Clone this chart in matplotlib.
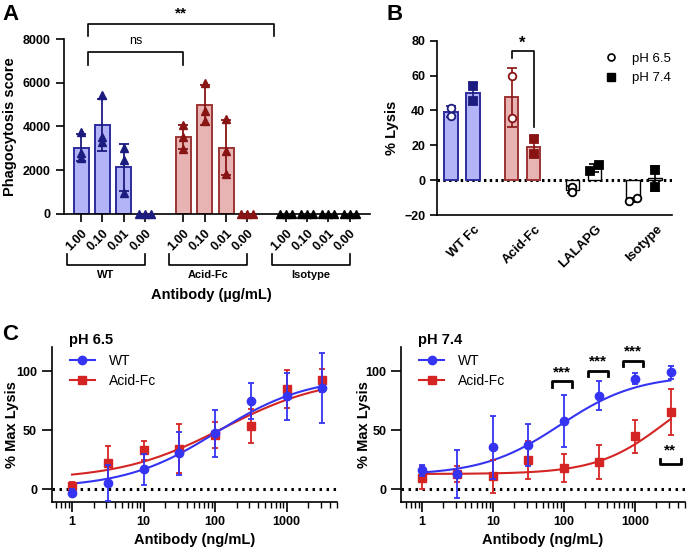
import numpy as np
import matplotlib
matplotlib.use('Agg')
import matplotlib.pyplot as plt

plt.rcParams['font.family'] = ['Liberation Sans', 'DejaVu Sans']
plt.rcParams['axes.linewidth'] = 1.2
plt.rcParams['xtick.major.width'] = 1.2
plt.rcParams['ytick.major.width'] = 1.2
plt.rcParams['xtick.minor.width'] = 1.0

# ---------------- data ----------------
# Panel A: phagocytosis score (triplicates), antibody in ug/mL
conc_labels = ['1.00', '0.10', '0.01', '0.00']
a_groups = ['WT', 'Acid-Fc', 'Isotype']
a_wt = [[3750, 2800, 2550], [5450, 3500, 3300], [3000, 2450, 950], [0, 0, 0]]
a_acid = [[4050, 3500, 2950], [6000, 4700, 4250], [4350, 2900, 1850], [0, 0, 0]]
a_iso = [[0, 0, 0], [0, 0, 0], [0, 0, 0], [0, 0, 0]]

# Panel B: % lysis (duplicates)
b_groups = ['WT Fc', 'Acid-Fc', 'LALAPG', 'Isotype']
b_ph65 = [[41.5, 37.0], [59.5, 35.5], [-4.0, -7.0], [-12.0, -10.5]]
b_ph74 = [[54.0, 45.5], [23.5, 15.0], [5.5, 8.5], [6.0, -4.0]]

# Panel C: % max lysis vs antibody (ng/mL)
c_x = [1, 3.16, 10, 31.6, 100, 316, 1000, 3162]
c65_wt = [-3, 5.5, 17, 30.5, 47.5, 75, 79, 86]
c65_wt_sd = [3, 15, 13, 18, 20, 15, 20, 30]
c65_acid = [3, 22, 33, 34.5, 46, 53.5, 85, 92.5]
c65_acid_sd = [3, 15, 8, 21, 11, 14.5, 16, 10]
c74_wt = [16, 13, 35.5, 37.5, 58, 79.5, 94, 99.5]
c74_wt_sd = [5, 20, 27, 18, 22, 12, 5, 5.5]
c74_acid = [10, 13, 11, 25, 18, 23.5, 45, 65.5]
c74_acid_sd = [9.5, 7, 14, 16, 12, 14.5, 14, 19.5]

# fitted 4-parameter logistic curves: bottom, top, EC50, hill
fit65_wt = (1, 96, 105, 0.68)
fit65_acid = (8, 96, 130, 0.6)
fit74_wt = (12, 97, 88, 0.8)
fit74_acid = (13, 100, 2700, 0.9)

# colours
blue_fill, blue_edge, blue_pt = '#b3b3f7', '#2c2c9c', '#1c1c80'
red_fill, red_edge, red_pt = '#e8b3b3', '#9c3434', '#881414'
c_blue, c_red = '#3434f2', '#d42424'


def logistic(x, p):
    b, t, ec, h = p
    return b + (t - b) / (1 + (ec / x) ** h)


fig = plt.figure(figsize=(6.88, 5.48), dpi=100)

# ---------------- Panel A ----------------
axA = fig.add_axes([64/688, 1-214/548, 306/688, 175/548])
pos = [np.arange(4) + g * 4.8 for g in range(3)]
for xs, pts, fc, ec, pc in [(pos[0], a_wt, blue_fill, blue_edge, blue_pt),
                             (pos[1], a_acid, red_fill, red_edge, red_pt),
                             (pos[2], a_iso, 'white', 'black', 'black')]:
    for x, p in zip(xs, pts):
        p = np.array(p, float)
        m = p.mean()
        if m > 0:
            axA.bar(x, m, width=0.7, color=fc, edgecolor=ec, linewidth=1.4, zorder=2)
            axA.errorbar(x, m, yerr=p.std(ddof=1), color=pc, capsize=3.5, lw=1.3,
                         capthick=1.3, zorder=3)
            dx = np.zeros(3)
        else:
            dx = np.array([-0.28, 0, 0.28])
        axA.plot(x + dx, p, '^', color=pc, ms=6, zorder=4, clip_on=False)

axA.set_ylim(0, 8000)
axA.set_xlim(-0.8, 13.55)
axA.set_yticks(range(0, 8001, 2000))
axA.set_xticks(np.concatenate(pos))
axA.set_xticklabels(conc_labels * 3, rotation=45, ha='right', rotation_mode='anchor',
                    fontsize=8, fontweight='bold')
axA.tick_params(axis='both', direction='out', length=6, labelsize=9)
for t in axA.get_yticklabels():
    t.set_fontweight('bold')
axA.spines['top'].set_visible(False)
axA.spines['right'].set_visible(False)
axA.set_ylabel('Phagocytosis score', fontsize=10.5, fontweight='bold')
axA.yaxis.set_label_coords(-0.155, 0.5)

# group brackets under the tick labels
tr = axA.get_xaxis_transform()
for g, name in enumerate(a_groups):
    x0, x1 = pos[g][0] - 0.66, pos[g][-1]
    axA.plot([x0, x0, x1, x1], [-0.229, -0.29, -0.29, -0.229], color='black',
             lw=1.2, transform=tr, clip_on=False)
    axA.text((x0 + x1) / 2, -0.35, name, transform=tr, ha='center', va='center',
             fontsize=8, fontweight='bold')
axA.set_xlabel('Antibody (µg/mL)', fontsize=10.5, fontweight='bold')
axA.xaxis.set_label_coords(0.48, -0.42)

# significance
axA.plot([0.33, 0.33, 4.78, 4.78], [6810, 7400, 7400, 6810], color='black', lw=1.2,
         clip_on=False)
axA.text(2.55, 7900, 'ns', ha='center', va='center', fontsize=9)
axA.plot([0.33, 0.33, 9.04, 9.04], [8137, 8686, 8686, 8137], color='black', lw=1.2,
         clip_on=False)
axA.text(4.69, 9150, '**', ha='center', va='center', fontsize=11, fontweight='bold')

# ---------------- Panel B ----------------
axB = fig.add_axes([437/688, 1-215/548, 235/688, 174.3/548])
b_fill = [blue_fill, red_fill, 'white', 'white']
b_edge = [blue_edge, red_edge, 'black', 'black']
b_pt = [blue_pt, red_pt, 'black', 'black']
dx65 = [[0, 0], [0, 0], [0, 0], [-0.07, 0.07]]
dx74 = [[0, 0], [0, 0], [-0.07, 0.07], [0, 0]]
off = 0.18
for i in range(4):
    for sign, pts, dx, mk in [(-1, b_ph65[i], dx65[i], 'o'), (1, b_ph74[i], dx74[i], 's')]:
        p = np.array(pts)
        x = i + sign * off
        m = p.mean()
        lw = 1.4 if i < 2 else 1.0
        axB.bar(x, m, width=0.22, color=b_fill[i], edgecolor=b_edge[i], linewidth=lw,
                zorder=2)
        axB.errorbar(x, m, yerr=p.std(ddof=1), color=b_pt[i], capsize=3.5, lw=1.2,
                     capthick=1.2, zorder=3)
        fc = 'white' if mk == 'o' else b_pt[i]
        axB.plot(x + np.array(dx), p, mk, mfc=fc, mec=b_pt[i], mew=1.3, ms=6 if mk == 's' else 5.5,
                 zorder=4, linestyle='none')

axB.axhline(0, color='black', lw=2.2, ls=(0, (0.8, 1.1)), zorder=1)
axB.set_ylim(-20, 80)
axB.set_xlim(-0.41, 3.46)
axB.set_yticks(range(-20, 81, 20))
axB.set_xticks(np.arange(4) + 0.2)
axB.set_xticklabels(b_groups, rotation=45, ha='right', rotation_mode='anchor',
                    fontsize=9.5, fontweight='bold')
axB.tick_params(axis='x', length=0, pad=6)
axB.tick_params(axis='y', direction='out', length=5, labelsize=9)
for t in axB.get_yticklabels():
    t.set_fontweight('bold')
axB.spines['top'].set_visible(False)
axB.spines['right'].set_visible(False)
axB.set_ylabel('% Lysis', fontsize=10.5, fontweight='bold')
axB.plot([1 - off, 1 - off, 1 + off, 1 + off], [70, 74.3, 74.3, 30.5], color='black', lw=1.2)
axB.text(1.0, 78.5, '*', ha='center', va='center', fontsize=12, fontweight='bold')
axB.plot([], [], 'o', mfc='white', mec='black', mew=1.2, ms=5, label='pH 6.5')
axB.plot([], [], 's', color='black', ms=6, label='pH 7.4')
axB.legend(loc='upper right', frameon=False, fontsize=9.5, handletextpad=0.6,
           bbox_to_anchor=(1.045, 1.0), labelspacing=0.55)

# ---------------- Panel C ----------------
xfit = np.logspace(0, np.log10(c_x[-1]), 200)


def curve_panel(ax, title, wt, wt_sd, acid, acid_sd, fwt, facid, ylab_x):
    ax.set_xscale('log')
    ax.axhline(0, color='black', lw=2.2, ls=(0, (0.8, 1.5)), zorder=1)
    ax.plot(xfit, logistic(xfit, fwt), color=c_blue, lw=1.5, zorder=3)
    ax.plot(xfit, logistic(xfit, facid), color=c_red, lw=1.5, zorder=2)
    ax.errorbar(c_x, acid, yerr=acid_sd, fmt='s', color=c_red, ms=5.5, capsize=2,
                lw=1.3, capthick=1.3, zorder=4, clip_on=False)
    ax.errorbar(c_x, wt, yerr=wt_sd, fmt='o', color=c_blue, ms=6, capsize=2,
                lw=1.3, capthick=1.3, zorder=5, clip_on=False)
    ax.plot([], [], '-o', color=c_blue, ms=6, lw=1.5, label='WT')
    ax.plot([], [], '-s', color=c_red, ms=5.5, lw=1.5, label='Acid-Fc')
    ax.legend(loc='upper left', frameon=False, fontsize=10, bbox_to_anchor=(0.02, 1.035),
              handlelength=1.8, handletextpad=1.0, labelspacing=0.45)
    ax.set_xlim(0.52, 5000)
    ax.set_ylim(-10.5, 121)
    ax.set_yticks([0, 50, 100])
    ax.set_xticks([1, 10, 100, 1000])
    ax.set_xticklabels(['1', '10', '100', '1000'])
    ax.xaxis.set_minor_locator(matplotlib.ticker.LogLocator(subs=np.arange(2, 10)))
    ax.xaxis.set_minor_formatter(matplotlib.ticker.NullFormatter())
    ax.tick_params(axis='both', which='major', direction='out', length=7, labelsize=9)
    ax.tick_params(axis='x', which='minor', direction='out', length=4.5)
    for t in ax.get_xticklabels() + ax.get_yticklabels():
        t.set_fontweight('bold')
    ax.spines['top'].set_visible(False)
    ax.spines['right'].set_visible(False)
    ax.set_ylabel('% Max Lysis', fontsize=10.5, fontweight='bold')
    ax.yaxis.set_label_coords(ylab_x, 0.5)
    ax.set_xlabel('Antibody (ng/mL)', fontsize=10.5, fontweight='bold')
    ax.xaxis.set_label_coords(0.5, -0.2)
    ax.text(0.06, 1.0, title, transform=ax.transAxes, fontsize=10.5, fontweight='bold',
            va='bottom', ha='left')


axC1 = fig.add_axes([51.7/688, 1-501.7/548, 285/688, 155/548])
curve_panel(axC1, 'pH 6.5', c65_wt, c65_wt_sd, c65_acid, c65_acid_sd, fit65_wt, fit65_acid,
            -0.115)
axC2 = fig.add_axes([401/688, 1-501.7/548, 284/688, 155/548])
curve_panel(axC2, 'pH 7.4', c74_wt, c74_wt_sd, c74_acid, c74_acid_sd, fit74_wt, fit74_acid,
            -0.105)
axC2.set_xlim(0.51, 5050)

# significance on pH 7.4
for (x0, x1), yb in zip([(69, 131), (220, 421), (684, 1283)], [91.5, 100.8, 109]):
    axC2.plot([x0, x0, x1, x1], [yb - 4.5, yb, yb, yb - 4.5], color='black', lw=2,
              clip_on=False)
    axC2.text(np.sqrt(x0 * x1), yb + 2, '***', ha='center', va='bottom', fontsize=11,
              fontweight='bold')
axC2.plot([2248, 2248, 4395, 4395], [26, 21.5, 21.5, 26], color='black', lw=2,
          clip_on=False)
axC2.text(np.sqrt(2248 * 4395), 27, '**', ha='center', va='bottom', fontsize=11,
          fontweight='bold')

# panel letters
fig.text(2/688, 1-4/548, 'A', fontsize=16, fontweight='bold', va='top')
fig.text(386/688, 1-4/548, 'B', fontsize=16, fontweight='bold', va='top')
fig.text(2/688, 1-324/548, 'C', fontsize=16, fontweight='bold', va='top')

fig.savefig('out.png', dpi=100)
